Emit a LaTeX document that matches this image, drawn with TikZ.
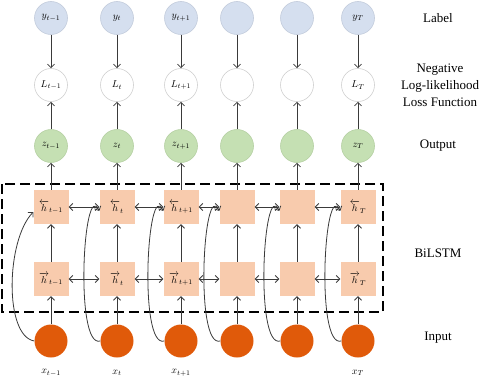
\documentclass[tikz,border=0pt]{standalone}
\usepackage{fontspec}
\setmainfont{Liberation Serif}
\usepackage{amsmath}
\usetikzlibrary{arrows.meta}
\definecolor{lblue}{HTML}{D5DFEF}
\definecolor{lblueb}{HTML}{C3CCDC}
\definecolor{lgreen}{HTML}{C5E0B3}
\definecolor{lgreenb}{HTML}{B5D0A3}
\definecolor{peach}{HTML}{F8CBAD}
\definecolor{orng}{HTML}{E05A0A}
\definecolor{lossb}{HTML}{D0D0D0}
\definecolor{arrc}{HTML}{3A3A3A}
\tikzset{
  ycirc/.style={circle,minimum size=33pt,inner sep=0pt,fill=lblue,draw=lblueb,line width=0.6pt,font=\normalsize},
  lcirc/.style={circle,minimum size=33pt,inner sep=0pt,fill=white,draw=lossb,line width=0.6pt,font=\normalsize},
  zcirc/.style={circle,minimum size=33pt,inner sep=0pt,fill=lgreen,draw=lgreenb,line width=0.6pt,font=\normalsize},
  xcirc/.style={circle,minimum size=33pt,inner sep=0pt,fill=orng,draw=none},
  hbox/.style={rectangle,minimum width=35pt,minimum height=34pt,inner sep=0pt,fill=peach,draw=none,font=\normalsize},
  arr/.style={draw=arrc,line width=0.8pt,-{Straight Barb[length=3.5pt,width=7pt]}},
  darr/.style={draw=arrc,line width=0.8pt,{Straight Barb[length=3.5pt,width=7pt]}-{Straight Barb[length=3.5pt,width=7pt]}},
  dashbox/.style={draw=black,line width=1.8pt,dash pattern=on 10pt off 5pt},
  sidelbl/.style={font=\fontsize{13}{17}\selectfont,align=center},
  xlbl/.style={font=\normalsize}
}
\begin{document}
\begin{tikzpicture}[x=1pt,y=-1pt]
\useasboundingbox (0,0) rectangle (484,380);
% dashed BiLSTM frame
\draw[dashbox] (2,184) rectangle (383,312);
% columns
\foreach \i/\x/\ys/\ls/\zs/\hb/\hf/\xs in {
  1/51/{$y_{t-1}$}/{$L_{t-1}$}/{$z_{t-1}$}/{$\overleftarrow{h}_{t-1}$}/{$\overrightarrow{h}_{t-1}$}/{$x_{t-1}$},
  2/117/{$y_t$}/{$L_t$}/{$z_t$}/{$\overleftarrow{h}_t$}/{$\overrightarrow{h}_t$}/{$x_t$},
  3/181/{$y_{t+1}$}/{$L_{t+1}$}/{$z_{t+1}$}/{$\overleftarrow{h}_{t+1}$}/{$\overrightarrow{h}_{t+1}$}/{$x_{t+1}$},
  4/237/{}/{}/{}/{}/{}/{},
  5/297/{}/{}/{}/{}/{}/{},
  6/358/{$y_T$}/{$L_T$}/{$z_T$}/{$\overleftarrow{h}_T$}/{$\overrightarrow{h}_T$}/{$x_T$}}{
  \node[ycirc] (y\i) at (\x,18) {\ys};
  \node[lcirc] (L\i) at (\x,85) {\ls};
  \node[zcirc] (z\i) at (\x,146) {\zs};
  \node[hbox] (hb\i) at (\x,207) {\hb};
  \node[hbox] (hf\i) at (\x,279) {\hf};
  \node[xcirc] (x\i) at (\x,341) {};
  \node[xlbl] (xl\i) at (\x,373) {\xs};
  \draw[arr] (y\i) -- (L\i);
  \draw[arr] (z\i) -- (L\i);
  \draw[arr] (hb\i) -- (z\i);
  \draw[arr] (hf\i) -- (hb\i);
  \draw[arr] (x\i) -- (hf\i);
}
% horizontal bidirectional arrows
\foreach \a/\b in {1/2,2/3,3/4,4/5,5/6}{
  \draw[darr] (hb\a.east) -- (hb\b.west);
  \draw[darr] (hf\a.east) -- (hf\b.west);
}
% skip connections from input to backward layer
\draw[arr] (x1.west) .. controls (4,336) and (6,240) .. ([yshift=-5pt]hb1.west);
\foreach \i in {2,3,4,5,6}{
  \draw[arr] (x\i.west) .. controls ([xshift=-26pt,yshift=-8pt]x\i.west) and ([xshift=-16pt,yshift=30pt]hb\i.west) .. ([yshift=-4pt]hb\i.west);
}
% side labels
\node[sidelbl] (tlabel) at (438,18) {Label};
\node[sidelbl] (tloss) at (440,85) {Negative\\Log-likelihood\\Loss Function};
\node[sidelbl] (tout) at (438,146) {Output};
\node[sidelbl] (tbil) at (438,253) {BiLSTM};
\node[sidelbl] (tin) at (438,338) {Input};
\end{tikzpicture}
\end{document}
